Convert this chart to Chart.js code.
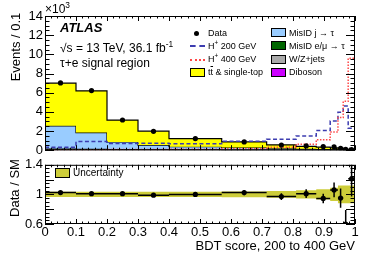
<!DOCTYPE html>
<html>
<head>
<meta charset="utf-8">
<script src="https://cdn.jsdelivr.net/npm/chart.js@4/dist/chart.umd.min.js"></script>
<style>
  body { margin: 0; background: #fff; }
  #wrap { position: relative; width: 374px; height: 268px; overflow: hidden;
          font-family: "Liberation Sans", Arial, sans-serif; color: #000; }
  #wrap canvas { position: absolute; left: 0; }
  .t { position: absolute; white-space: nowrap; line-height: 1; }
  .rot { transform: translate(-50%, -50%) rotate(-90deg); }
  .leg { font-size: 9px; }
  .box { position: absolute; border: 1px solid #000; box-sizing: border-box; }
  .ln { position: absolute; height: 0; }
  sup { font-size: 70%; line-height: 0; }
</style>
</head>
<body>
<div id="wrap">
  <canvas id="mainChart" width="374" height="160" style="top:0"></canvas>
  <canvas id="ratioChart" width="374" height="113" style="top:155px"></canvas>

  <div class="t" style="left:45px;top:3px;font-size:12px">&times;10<sup>3</sup></div>
  <div class="t rot" style="left:15px;top:47px;font-size:13px">Events / 0.1</div>
  <div class="t rot" style="left:14px;top:188px;font-size:13px">Data / SM</div>
  <div class="t" style="right:19px;top:239px;font-size:13px">BDT score, 200 to 400 GeV</div>

  <div class="t" style="left:60px;top:21px;font-size:13px;font-weight:bold;font-style:italic">ATLAS</div>
  <div class="t" style="left:60px;top:42px;font-size:12px">&radic;s = 13 TeV, 36.1 fb<sup>-1</sup></div>
  <div class="t" style="left:60px;top:57px;font-size:12px">&tau;+e signal region</div>

  <!-- legend, left column -->
  <div style="position:absolute;left:194px;top:31px;width:5px;height:5px;border-radius:50%;background:#000"></div>
  <div class="t leg" style="left:208px;top:29px">Data</div>
  <div class="ln" style="left:190px;top:45px;width:15px;border-top:2px dashed #3c3cb0"></div>
  <div class="t leg" style="left:208px;top:42px">H<sup>+</sup> 200 GeV</div>
  <div class="ln" style="left:190px;top:59px;width:15px;border-top:2px dotted #ff4848"></div>
  <div class="t leg" style="left:208px;top:55px">H<sup>+</sup> 400 GeV</div>
  <div class="box" style="left:190px;top:68px;width:15px;height:9px;background:#ffff00"></div>
  <div class="t leg" style="left:208px;top:68px">t<span style="text-decoration:overline">t</span> &amp; single-top</div>

  <!-- legend, right column -->
  <div class="box" style="left:271px;top:28px;width:15px;height:9px;background:#99ccff"></div>
  <div class="t leg" style="left:289px;top:29px">MisID j &rarr; &tau;</div>
  <div class="box" style="left:271px;top:41px;width:15px;height:9px;background:#006600"></div>
  <div class="t leg" style="left:289px;top:42px">MisID e/&mu; &rarr; &tau;</div>
  <div class="box" style="left:271px;top:55px;width:15px;height:9px;background:#aaaaaa"></div>
  <div class="t leg" style="left:289px;top:55px">W/Z+jets</div>
  <div class="box" style="left:271px;top:68px;width:15px;height:9px;background:#cc00ff"></div>
  <div class="t leg" style="left:289px;top:68px">Diboson</div>

  <!-- ratio legend -->
  <div class="box" style="left:55px;top:168px;width:15px;height:10px;background:#cdcd3a"></div>
  <div class="t" style="left:73px;top:168px;font-size:10px">Uncertainty</div>
</div>

<script>
// bin edges of the BDT score
const edges = [0, 0.1, 0.2, 0.3, 0.4, 0.57, 0.715, 0.81, 0.875, 0.92, 0.945, 0.962, 0.978, 1.0];

// events / 0.1, in units of 10^3
const dataVals  = [7.02, 6.22, 3.15, 1.97, 1.21, 0.86, 0.53, 0.45, 0.38, 0.35, 0.2, 0.08, 0.07];
const ttbar     = [4.45, 4.35, 2.28, 1.45, 0.85, 0.58, 0.35, 0.26, 0.2, 0.16, 0.11, 0.07, 0.04];
const misidJet  = [2.35, 1.68, 0.75, 0.45, 0.3, 0.24, 0.17, 0.12, 0.1, 0.08, 0.06, 0.04, 0.03];
const misidLep  = [0.15, 0.12, 0.08, 0.06, 0.04, 0.03, 0.025, 0.02, 0.015, 0.012, 0.01, 0.008, 0.005];
const wzJets    = [0.03, 0.03, 0.02, 0.015, 0.01, 0.008, 0.006, 0.005, 0.004, 0.003, 0.002, 0.001, 0.001];
const diboson   = [0.01, 0.01, 0.01, 0.01, 0.01, 0.005, 0.005, 0.003, 0.002, 0.002, 0.001, 0.001, 0.001];
const hplus200  = [0.32, 0.9, 0.7, 0.72, 0.68, 0.93, 1.14, 1.49, 2.05, 3.04, 3.95, 4.6, 2.3];
const hplus400  = [0.05, 0.05, 0.06, 0.07, 0.1, 0.15, 0.3, 0.62, 1.1, 1.9, 3.4, 5.1, 9.6];

// Data / SM panel
const ratioVals = [1.024, 1.01, 1.01, 0.99, 1.0, 1.024, 0.97, 1.01, 0.945, 1.06, 0.95, 0.6, 1.21];
const ratioErr  = [0.012, 0.013, 0.018, 0.023, 0.028, 0.034, 0.045, 0.06, 0.065, 0.1, 0.13, 0.19, 0.24];
const bandErr   = [0.035, 0.035, 0.035, 0.035, 0.035, 0.04, 0.045, 0.055, 0.07, 0.09, 0.12, 0.12, 0.12];

// tick labels
const xTickVals     = [0, 0.1, 0.2, 0.3, 0.4, 0.5, 0.6, 0.7, 0.8, 0.9, 1];
const yTickVals     = [0, 2, 4, 6, 8, 10, 12, 14];
const ratioTickVals = [0.6, 0.8, 1, 1.2, 1.4];

const FONT = "'Liberation Sans', Arial, sans-serif";
const centers = edges.slice(0, -1).map((e, i) => (e + edges[i + 1]) / 2);
const plain = v => String(+v.toFixed(2));

// step histogram: one point per left edge, plus the closing right edge
function hist(vals) {
    return edges.map((e, i) => ({ x: e, y: vals[Math.min(i, vals.length - 1)] }));
}

// running sums for the stacked backgrounds (bottom first)
function cumulate(parts) {
    let run = parts[0].map(() => 0);
    return parts.map(p => (run = run.map((v, i) => v + p[i])));
}
const [cDib, cWZ, cLep, cJet, cTop] = cumulate([diboson, wzJets, misidLep, misidJet, ttbar]);

// ROOT-like frame with inward ticks on all four sides
const frameTicks = {
    id: "frameTicks",
    afterDraw(chart, args, o) {
        const { ctx, chartArea: a, scales: { x, y } } = chart;
        ctx.save();
        ctx.strokeStyle = "#000";
        ctx.lineWidth = 1;
        ctx.strokeRect(a.left + 0.5, a.top + 0.5, a.right - a.left - 1, a.bottom - a.top - 1);
        ctx.beginPath();
        const nx = Math.round((x.max - x.min) / o.xMinor);
        for (let k = 0; k <= nx; k++) {
            const px = Math.round(x.getPixelForValue(x.min + k * o.xMinor)) + 0.5;
            const len = k % o.xPer === 0 ? o.xMajor : o.xMajor / 2;
            ctx.moveTo(px, a.bottom); ctx.lineTo(px, a.bottom - len);
            ctx.moveTo(px, a.top); ctx.lineTo(px, a.top + len);
        }
        const ny = Math.round((y.max - y.min) / o.yMinor);
        for (let k = 0; k <= ny; k++) {
            const py = Math.round(y.getPixelForValue(y.min + k * o.yMinor)) + 0.5;
            const len = k % o.yPer === 0 ? o.yMajor : o.yMajor / 2;
            ctx.moveTo(a.left, py); ctx.lineTo(a.left + len, py);
            ctx.moveTo(a.right, py); ctx.lineTo(a.right - len, py);
        }
        ctx.stroke();
        ctx.restore();
    }
};

// error bars on the ratio points
const errorBars = {
    id: "errorBars",
    afterDatasetsDraw(chart) {
        const { ctx, chartArea: a, scales: { x, y } } = chart;
        ctx.save();
        ctx.beginPath();
        ctx.rect(a.left, a.top, a.right - a.left, a.bottom - a.top);
        ctx.clip();
        ctx.strokeStyle = "#000";
        ctx.lineWidth = 1.5;
        ctx.beginPath();
        ratioVals.forEach((r, i) => {
            const yc = y.getPixelForValue(r);
            const xc = x.getPixelForValue(centers[i]);
            ctx.moveTo(x.getPixelForValue(edges[i]), yc);
            ctx.lineTo(x.getPixelForValue(edges[i + 1]), yc);
            ctx.moveTo(xc, y.getPixelForValue(r - ratioErr[i]));
            ctx.lineTo(xc, y.getPixelForValue(r + ratioErr[i]));
        });
        ctx.stroke();
        ctx.restore();
    }
};

const stepLine = (vals, extra) => Object.assign({
    data: hist(vals), stepped: "before", pointRadius: 0,
    borderColor: "#000", borderWidth: 1.2, fill: false
}, extra);

const baseOpts = {
    responsive: false, animation: false, devicePixelRatio: 1, events: [],
    plugins: { legend: { display: false }, tooltip: { enabled: false } }
};

new Chart(document.getElementById("mainChart"), {
    type: "line",
    data: {
        datasets: [
            { data: centers.map((c, i) => ({ x: c, y: dataVals[i] })), showLine: false,
              pointRadius: 2.6, pointBackgroundColor: "#000", pointBorderWidth: 0 },
            stepLine(hplus400, { borderColor: "#ff4848", borderWidth: 1.5, borderDash: [1.5, 1.5] }),
            stepLine(hplus200, { borderColor: "#3c3cb0", borderWidth: 1.5, borderDash: [4, 2.5] }),
            stepLine(cTop, { fill: "+1", backgroundColor: "#ffff00" }),
            stepLine(cJet, { fill: "+1", backgroundColor: "#99ccff" }),
            stepLine(cLep, { fill: "+1", backgroundColor: "#006600" }),
            stepLine(cWZ,  { fill: "+1", backgroundColor: "#aaaaaa" }),
            stepLine(cDib, { fill: "origin", backgroundColor: "#cc00ff" })
        ]
    },
    options: {
        ...baseOpts,
        layout: { padding: { left: 0, right: 19, top: 16, bottom: 9 } },
        scales: {
            x: { type: "linear", min: 0, max: 1, display: false },
            y: {
                min: 0, max: 14,
                afterBuildTicks: s => { s.ticks = yTickVals.map(v => ({ value: v })); },
                afterFit: s => { s.width = 45; },
                grid: { display: false, drawTicks: false },
                border: { display: false },
                ticks: { color: "#000", padding: 2, callback: plain, font: { family: FONT, size: 13 } }
            }
        },
        plugins: { ...baseOpts.plugins, frameTicks: { xMinor: 0.02, xPer: 5, xMajor: 5, yMinor: 0.5, yPer: 4, yMajor: 9 } }
    },
    plugins: [frameTicks]
});

new Chart(document.getElementById("ratioChart"), {
    type: "line",
    data: {
        datasets: [
            { data: centers.map((c, i) => ({ x: c, y: ratioVals[i] })), showLine: false,
              pointRadius: 2.6, pointBackgroundColor: "#000", pointBorderWidth: 0 },
            stepLine(bandErr.map(u => 1 + u), { fill: "+1", backgroundColor: "#cdcd3a", borderWidth: 0 }),
            stepLine(bandErr.map(u => 1 - u), { borderWidth: 0 })
        ]
    },
    options: {
        ...baseOpts,
        layout: { padding: { left: 0, right: 19, top: 8, bottom: 0 } },
        scales: {
            x: {
                type: "linear", min: 0, max: 1,
                afterBuildTicks: s => { s.ticks = xTickVals.map(v => ({ value: v })); },
                afterFit: s => { s.height = 44; },
                grid: { display: false, drawTicks: false },
                border: { display: false },
                ticks: { color: "#000", padding: 1, autoSkip: false, maxRotation: 0, callback: plain,
                         font: { family: FONT, size: 13 } }
            },
            y: {
                min: 0.6, max: 1.4,
                afterBuildTicks: s => { s.ticks = ratioTickVals.map(v => ({ value: v })); },
                afterFit: s => { s.width = 45; },
                grid: { display: false, drawTicks: false },
                border: { display: false },
                ticks: { color: "#000", padding: 2, callback: plain, font: { family: FONT, size: 13 } }
            }
        },
        plugins: { ...baseOpts.plugins, frameTicks: { xMinor: 0.02, xPer: 5, xMajor: 5, yMinor: 0.05, yPer: 4, yMajor: 9 } }
    },
    plugins: [frameTicks, errorBars]
});
</script>
</body>
</html>
